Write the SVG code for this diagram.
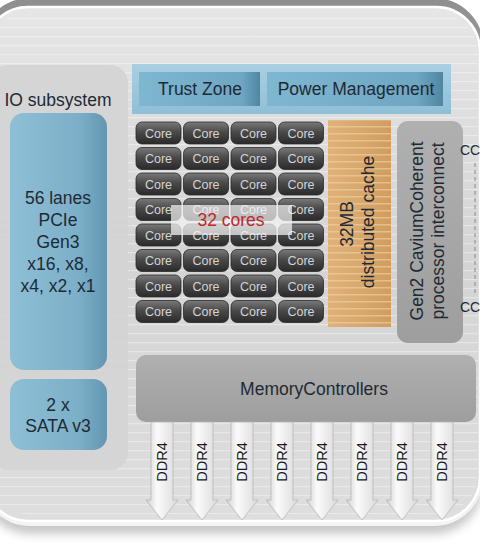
<svg xmlns="http://www.w3.org/2000/svg" width="480" height="550" viewBox="0 0 480 550">
<defs>
<linearGradient id="frame" x1="0" y1="0" x2="0" y2="1">
<stop offset="0" stop-color="#8e8e8e"/><stop offset="0.5" stop-color="#c8c8c8"/><stop offset="1" stop-color="#f4f4f4"/>
</linearGradient>
<linearGradient id="body" x1="0" y1="0" x2="0" y2="1">
<stop offset="0" stop-color="#e6e6e6"/><stop offset="0.5" stop-color="#d4d4d4"/><stop offset="1" stop-color="#dedede"/>
</linearGradient>
<linearGradient id="blue" x1="0" y1="0" x2="1" y2="0">
<stop offset="0" stop-color="#8ebfd6"/><stop offset="0.7" stop-color="#7cafc8"/><stop offset="1" stop-color="#6396b0"/>
</linearGradient>
<linearGradient id="blueBand" x1="0" y1="0" x2="0" y2="1">
<stop offset="0" stop-color="#a9d0e2"/><stop offset="1" stop-color="#8fbfd6"/>
</linearGradient>
<linearGradient id="blueBox" x1="0" y1="0" x2="1" y2="0">
<stop offset="0" stop-color="#7fb6d0"/><stop offset="0.85" stop-color="#6fa6c2"/><stop offset="1" stop-color="#4f86a2"/>
</linearGradient>
<linearGradient id="core" x1="0" y1="0" x2="0" y2="1">
<stop offset="0" stop-color="#7a7a7a"/><stop offset="0.45" stop-color="#4a4a4a"/><stop offset="1" stop-color="#2a2a2a"/>
</linearGradient>
<linearGradient id="cache" x1="0" y1="0" x2="1" y2="0">
<stop offset="0" stop-color="#e0b27a"/><stop offset="1" stop-color="#d09d5e"/>
</linearGradient>
<linearGradient id="greyBox" x1="0" y1="0" x2="0" y2="1">
<stop offset="0" stop-color="#b0b0b0"/><stop offset="1" stop-color="#9e9e9e"/>
</linearGradient>
<linearGradient id="arrow" x1="0" y1="0" x2="1" y2="0">
<stop offset="0" stop-color="#d0d0d0"/><stop offset="0.35" stop-color="#fafafa"/><stop offset="1" stop-color="#dadada"/>
</linearGradient>
<filter id="blur" x="-10%" y="-10%" width="120%" height="130%"><feGaussianBlur stdDeviation="5"/></filter>
<pattern id="streaks" width="40" height="9" patternUnits="userSpaceOnUse">
<rect width="40" height="1.2" fill="#ffffff" opacity="0.45"/>
</pattern>
<pattern id="cacheStreaks" width="62" height="7" patternUnits="userSpaceOnUse">
<rect width="62" height="1.5" fill="#f0d4a8" opacity="0.6"/>
</pattern>
</defs>
<style>
text{font-family:"Liberation Sans",Arial,sans-serif;fill:#1e2a33;}
.lbl{font-size:17.5px;text-anchor:middle;}
.core rect{fill:url(#core);stroke:#2a2a2a;stroke-width:0.8;}
.core text{font-size:12.5px;fill:#d4d4d4;text-anchor:middle;}
.ddr text{font-size:14.5px;fill:#1a1a1a;text-anchor:middle;}
.ddr path{fill:url(#arrow);stroke:#b8b8b8;stroke-width:0.8;}
</style>
<rect width="480" height="550" fill="#ffffff"/>
<g id="chip">
<rect x="-18" y="16" width="500" height="518" rx="48" fill="#9a9a9a" opacity="0.55" filter="url(#blur)"/>
<rect x="-20" y="-2" width="504" height="528" rx="50" fill="url(#frame)"/>
<rect x="-16" y="7" width="496" height="514" rx="44" fill="url(#body)" stroke="#ffffff" stroke-width="2.5"/>
<rect x="-14" y="14" width="492" height="500" rx="40" fill="url(#streaks)" opacity="0.8"/>
</g>
<g id="io-subsystem">
<rect x="-10" y="65" width="138" height="405" rx="18" fill="#d4d4d4" opacity="0.9"/>
<text class="lbl" x="58" y="106">IO subsystem</text>
</g>
<g id="pcie">
<rect x="10" y="113" width="97" height="257" rx="14" fill="url(#blue)"/>
<text class="lbl" x="58" y="204">56 lanes</text>
<text class="lbl" x="58" y="226">PCIe</text>
<text class="lbl" x="58" y="248">Gen3</text>
<text class="lbl" x="58" y="270">x16, x8,</text>
<text class="lbl" x="58" y="292">x4, x2, x1</text>
</g>
<g id="sata">
<rect x="10" y="379" width="97" height="71" rx="14" fill="url(#blue)"/>
<text class="lbl" x="58" y="411">2 x</text>
<text class="lbl" x="58" y="432">SATA v3</text>
</g>
<g id="top-band">
<rect x="132" y="64" width="319" height="50" fill="url(#blueBand)"/>
</g>
<g id="trust-zone">
<rect x="139" y="72" width="121" height="34" fill="url(#blueBox)"/>
<text class="lbl" x="200" y="95">Trust Zone</text>
</g>
<g id="power-management">
<rect x="267" y="72" width="176" height="34" fill="url(#blueBox)"/>
<text class="lbl" x="356" y="95">Power Management</text>
</g>
<g id="cores" class="core">
<g id="core-grid">
<rect x="136" y="122" width="45" height="22" rx="6"/><rect x="183.5" y="122" width="45" height="22" rx="6"/><rect x="231" y="122" width="45" height="22" rx="6"/><rect x="278.5" y="122" width="45" height="22" rx="6"/>
<rect x="136" y="147.5" width="45" height="22" rx="6"/><rect x="183.5" y="147.5" width="45" height="22" rx="6"/><rect x="231" y="147.5" width="45" height="22" rx="6"/><rect x="278.5" y="147.5" width="45" height="22" rx="6"/>
<rect x="136" y="173" width="45" height="22" rx="6"/><rect x="183.5" y="173" width="45" height="22" rx="6"/><rect x="231" y="173" width="45" height="22" rx="6"/><rect x="278.5" y="173" width="45" height="22" rx="6"/>
<rect x="136" y="198.5" width="45" height="22" rx="6"/><rect x="183.5" y="198.5" width="45" height="22" rx="6"/><rect x="231" y="198.5" width="45" height="22" rx="6"/><rect x="278.5" y="198.5" width="45" height="22" rx="6"/>
<rect x="136" y="224" width="45" height="22" rx="6"/><rect x="183.5" y="224" width="45" height="22" rx="6"/><rect x="231" y="224" width="45" height="22" rx="6"/><rect x="278.5" y="224" width="45" height="22" rx="6"/>
<rect x="136" y="249.5" width="45" height="22" rx="6"/><rect x="183.5" y="249.5" width="45" height="22" rx="6"/><rect x="231" y="249.5" width="45" height="22" rx="6"/><rect x="278.5" y="249.5" width="45" height="22" rx="6"/>
<rect x="136" y="275" width="45" height="22" rx="6"/><rect x="183.5" y="275" width="45" height="22" rx="6"/><rect x="231" y="275" width="45" height="22" rx="6"/><rect x="278.5" y="275" width="45" height="22" rx="6"/>
<rect x="136" y="300.5" width="45" height="22" rx="6"/><rect x="183.5" y="300.5" width="45" height="22" rx="6"/><rect x="231" y="300.5" width="45" height="22" rx="6"/><rect x="278.5" y="300.5" width="45" height="22" rx="6"/>
</g>
<g id="core-labels">
<text x="158.5" y="137.5">Core</text><text x="206" y="137.5">Core</text><text x="253.5" y="137.5">Core</text><text x="301" y="137.5">Core</text>
<text x="158.5" y="163">Core</text><text x="206" y="163">Core</text><text x="253.5" y="163">Core</text><text x="301" y="163">Core</text>
<text x="158.5" y="188.5">Core</text><text x="206" y="188.5">Core</text><text x="253.5" y="188.5">Core</text><text x="301" y="188.5">Core</text>
<text x="158.5" y="214">Core</text><text x="206" y="214">Core</text><text x="253.5" y="214">Core</text><text x="301" y="214">Core</text>
<text x="158.5" y="239.5">Core</text><text x="206" y="239.5">Core</text><text x="253.5" y="239.5">Core</text><text x="301" y="239.5">Core</text>
<text x="158.5" y="265">Core</text><text x="206" y="265">Core</text><text x="253.5" y="265">Core</text><text x="301" y="265">Core</text>
<text x="158.5" y="290.5">Core</text><text x="206" y="290.5">Core</text><text x="253.5" y="290.5">Core</text><text x="301" y="290.5">Core</text>
<text x="158.5" y="316">Core</text><text x="206" y="316">Core</text><text x="253.5" y="316">Core</text><text x="301" y="316">Core</text>
</g>
</g>
<g id="cores-label">
<rect x="171" y="205" width="121" height="30" fill="#f4f4f4" opacity="0.72"/>
<text class="lbl" x="231" y="226" style="fill:#c0282e">32 cores</text>
</g>
<g id="cache">
<rect x="328" y="120" width="63" height="207" fill="url(#cache)"/>
<rect x="328" y="120" width="63" height="207" fill="url(#cacheStreaks)"/>
<text class="lbl" transform="translate(353,224) rotate(-90)">32MB</text>
<text class="lbl" transform="translate(374,222) rotate(-90)">distributed cache</text>
</g>
<g id="interconnect">
<rect x="397" y="121" width="66" height="222" rx="11" fill="url(#greyBox)"/>
<text class="lbl" transform="translate(423,231) rotate(-90)">Gen2 CaviumCoherent</text>
<text class="lbl" transform="translate(444,231) rotate(-90)">processor interconnect</text>
</g>
<g id="cc-top"><text x="460" y="155" style="font-size:14px">CC</text></g>
<g id="cc-bottom"><text x="460" y="312" style="font-size:14px">CC</text></g>
<g id="memory-controllers">
<rect x="136" y="355" width="340" height="67" rx="10" fill="url(#greyBox)"/>
<text class="lbl" x="314" y="394.5">MemoryControllers</text>
</g>
<g id="connectors">
<line x1="475" y1="163" x2="475" y2="296" stroke="#888888" stroke-width="1" stroke-dasharray="4,3"/>
<g class="ddr">
<path d="M151,422 H173 V500 H178 L162,520 L146,500 H151 Z"/>
<path d="M191,422 H213 V500 H218 L202,520 L186,500 H191 Z"/>
<path d="M231,422 H253 V500 H258 L242,520 L226,500 H231 Z"/>
<path d="M271,422 H293 V500 H298 L282,520 L266,500 H271 Z"/>
<path d="M311,422 H333 V500 H338 L322,520 L306,500 H311 Z"/>
<path d="M351,422 H373 V500 H378 L362,520 L346,500 H351 Z"/>
<path d="M391,422 H413 V500 H418 L402,520 L386,500 H391 Z"/>
<path d="M431,422 H453 V500 H458 L442,520 L426,500 H431 Z"/>
<text transform="translate(167,462) rotate(-90)">DDR4</text>
<text transform="translate(207,462) rotate(-90)">DDR4</text>
<text transform="translate(247,462) rotate(-90)">DDR4</text>
<text transform="translate(287,462) rotate(-90)">DDR4</text>
<text transform="translate(327,462) rotate(-90)">DDR4</text>
<text transform="translate(367,462) rotate(-90)">DDR4</text>
<text transform="translate(407,462) rotate(-90)">DDR4</text>
<text transform="translate(447,462) rotate(-90)">DDR4</text>
</g>
</g>
</svg>
